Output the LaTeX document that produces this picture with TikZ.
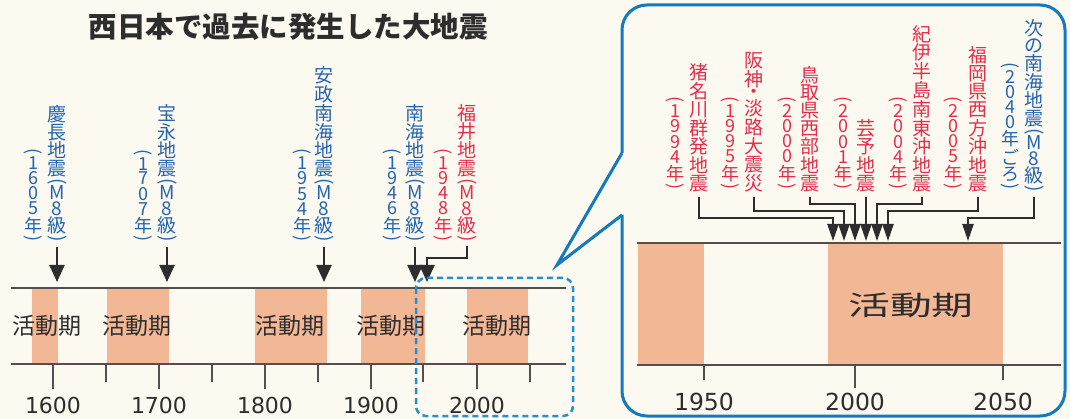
\documentclass[tikz,border=0pt]{standalone}
\usepackage{fontspec}
\usepackage{graphicx}
\setmainfont{Noto Sans CJK JP}
\newfontfamily\numfont{DejaVu Sans}
\usetikzlibrary{arrows.meta}
\XeTeXuseglyphmetrics=1

\definecolor{paper}{RGB}{252,250,240}
\definecolor{band}{RGB}{242,184,150}
\definecolor{axis}{RGB}{85,78,78}
\definecolor{ink}{RGB}{45,45,45}
\definecolor{quakeblue}{RGB}{35,100,175}
\definecolor{quakered}{RGB}{228,45,75}
\definecolor{frameblue}{RGB}{18,122,190}
\definecolor{dashblue}{RGB}{30,145,210}

% vertical text, one character per line
\makeatletter
\newdimen\tategap \tategap=1.3pt
\newcommand\tate[1]{\vbox{\offinterlineskip\lineskip\tategap\tate@a#1\relax}}
\def\tate@a#1{\hbox to 1em{\hss#1\hss}\futurelet\tate@next\tate@b}
\def\tate@b{\ifx\tate@next\relax\expandafter\@gobble\else\expandafter\tate@a\fi}
\makeatother
% parentheses turned for vertical text
\newcommand\tL{\rotatebox{-90}{(}}
\newcommand\tR{\rotatebox{-90}{)}}

\tikzset{
  title/.style={text=ink, inner sep=0pt, font=\bfseries\fontsize{28.5}{28.5}\selectfont},
  mainlbl/.style={inner sep=0pt, anchor=south, font=\fontsize{19}{19}\selectfont},
  yearlbl/.style={inner sep=0pt, anchor=south, font=\fontsize{18}{18}\selectfont,
    execute at begin node={\global\tategap=2pt}, execute at end node={\global\tategap=1.3pt}},
  axisline/.style={draw=axis, line width=2pt},
  tickmark/.style={draw=axis, line width=1.6pt},
  activelbl/.style={text=ink, inner sep=0pt, font=\fontsize{23}{23}\selectfont},
  yearnum/.style={text=ink, inner sep=0pt, font=\numfont\fontsize{22}{22}\selectfont},
  quake/.style={draw=ink, line width=2.4pt, -{Triangle[width=15pt,length=17pt]}},
  quakesmall/.style={draw=ink, line width=2.4pt, -{Triangle[width=11pt,length=17pt]}},
  panel/.style={draw=frameblue, line width=3pt},
}

\begin{document}
\begin{tikzpicture}[x=1pt,y=-1pt]
\fill[paper] (0,0) rectangle (1070,419);
% Drawing title
\node[title] (title) at (288,27) {西日本で過去に発生した大地震};
% Drawing active periods, long timeline
\fill[band] (32,288) rectangle (58,364);
\fill[band] (107,288) rectangle (169,364);
\fill[band] (255,288) rectangle (327,364);
\fill[band] (361,288) rectangle (425,364);
\fill[band] (467,288) rectangle (528,364);
\node[activelbl] (act1) at (47,326) {活動期};
\node[activelbl] (act2) at (137,326) {活動期};
\node[activelbl] (act3) at (290,326) {活動期};
\node[activelbl] (act4) at (391,326) {活動期};
\node[activelbl] (act5) at (497,326) {活動期};
% Drawing axis lines
\draw[axisline] (11,288) -- (566,288);
\draw[axisline] (11,364) -- (566,364);
% Drawing ticks and years
\draw[tickmark] (53,364) -- (53,389);
\draw[tickmark] (106,364) -- (106,382);
\draw[tickmark] (159,364) -- (159,389);
\draw[tickmark] (212,364) -- (212,382);
\draw[tickmark] (265,364) -- (265,389);
\draw[tickmark] (318,364) -- (318,382);
\draw[tickmark] (371,364) -- (371,389);
\draw[tickmark] (423,364) -- (423,382);
\draw[tickmark] (477,364) -- (477,389);
\draw[tickmark] (530,364) -- (530,382);
\node[yearnum] (y1600) at (53,405) {1600};
\node[yearnum] (y1700) at (159,405) {1700};
\node[yearnum] (y1800) at (265,405) {1800};
\node[yearnum] (y1900) at (371,405) {1900};
\node[yearnum] (y2000) at (477,405) {2000};
% Drawing quake labels
% Line 1: keicho 1605
\node[mainlbl, text=quakeblue] (keicho) at (57,242) {\tate{慶長地震\tL M8級\tR}};
\node[yearlbl, text=quakeblue] (keichoY) at (33,242) {\tate{\tL 1605年\tR}};
\coordinate (a1605) at (57,282);
\draw[quake, shorten <=5pt] (keicho.south) -- (a1605);
% Line 2: hoei 1707
\node[mainlbl, text=quakeblue] (hoei) at (167,242) {\tate{宝永地震\tL M8級\tR}};
\node[yearlbl, text=quakeblue] (hoeiY) at (143,242) {\tate{\tL 1707年\tR}};
\coordinate (a1707) at (167,282);
\draw[quake, shorten <=5pt] (hoei.south) -- (a1707);
% Line 3: ansei nankai
\node[mainlbl, text=quakeblue] (ansei) at (324,242) {\tate{安政南海地震\tL M8級\tR}};
\node[yearlbl, text=quakeblue] (anseiY) at (302,242) {\tate{\tL 1954年\tR}};
\coordinate (a1854) at (324,282);
\draw[quake, shorten <=5pt] (ansei.south) -- (a1854);
% Line 4: nankai 1946
\node[mainlbl, text=quakeblue] (nankai) at (415,242) {\tate{南海地震\tL M8級\tR}};
\node[yearlbl, text=quakeblue] (nankaiY) at (392,242) {\tate{\tL 1946年\tR}};
\coordinate (a1946) at (415,282);
\draw[quake, shorten <=5pt] (nankai.south) -- (a1946);
% Line 5: fukui 1948
\node[mainlbl, text=quakered] (fukui) at (467,242) {\tate{福井地震\tL M8級\tR}};
\node[yearlbl, text=quakered] (fukuiY) at (443,242) {\tate{\tL 1948年\tR}};
\coordinate (a1948) at (427,282);
\draw[quake, shorten <=4pt] (fukui.south) -- ++(0,16) -| (a1948);
% Drawing dashed zoom box
\draw[dashblue, line width=2.5pt, dash pattern=on 6pt off 4pt, rounded corners=10pt] (416,278) rectangle (573,416);
% Drawing callout panel
\draw[panel, rounded corners=25pt] (622,153) -- (622,5) -- (1065,5) -- (1065,416) -- (622,416) -- (622,215);
\draw[panel] (622,153) -- (557,265) -- (622,215);
% Drawing active periods, short timeline
\fill[band] (638,243) rectangle (704,365);
\fill[band] (828,243) rectangle (1003,365);
\node[activelbl, font=\fontsize{27}{27}\selectfont] (actbig) at (911,305) {\scalebox{1.55}[1]{活動期}};
\draw[axisline] (637,243) -- (1061,243);
\draw[axisline] (637,365) -- (1061,365);
\draw[tickmark] (704,365) -- (704,380);
\draw[tickmark] (855,365) -- (855,388);
\draw[tickmark] (1003,365) -- (1003,380);
\node[yearnum, font=\numfont\fontsize{23.5}{23.5}\selectfont] (z1950) at (704,402) {1950};
\node[yearnum, font=\numfont\fontsize{23.5}{23.5}\selectfont] (z2000) at (855,402) {2000};
\node[yearnum, font=\numfont\fontsize{23.5}{23.5}\selectfont] (z2050) at (1003,402) {2050};
% Line 6: inagawa 1994
\node[mainlbl, text=quakered] (inagawa) at (699,192) {\tate{猪名川群発地震}};
\node[yearlbl, text=quakered] (inagawaY) at (675,190) {\tate{\tL 1994年\tR}};
\coordinate (a1994) at (833,241);
\draw[quakesmall, shorten <=5pt] (inagawa.south) -- ++(0,26) -| (a1994);
% Line 7: hanshin 1995
\node[mainlbl, text=quakered] (hanshin) at (754,192) {\tate{阪神・淡路大震災}};
\node[yearlbl, text=quakered] (hanshinY) at (730,190) {\tate{\tL 1995年\tR}};
\coordinate (a1995) at (844,241);
\draw[quakesmall, shorten <=5pt] (hanshin.south) -- ++(0,19) -| (a1995);
% Line 8: tottori 2000
\node[mainlbl, text=quakered] (tottori) at (810,192) {\tate{鳥取県西部地震}};
\node[yearlbl, text=quakered] (tottoriY) at (787,190) {\tate{\tL 2000年\tR}};
\coordinate (a2000) at (855,241);
\draw[quakesmall, shorten <=5pt] (tottori.south) -- ++(0,12) -| (a2000);
% Line 9: geiyo 2001
\node[mainlbl, text=quakered] (geiyo) at (866,192) {\tate{芸予地震}};
\node[yearlbl, text=quakered] (geiyoY) at (843,190) {\tate{\tL 2001年\tR}};
\coordinate (a2001) at (866,241);
\draw[quakesmall, shorten <=5pt] (geiyo.south) -- (a2001);
% Line 10: kii 2004
\node[mainlbl, text=quakered] (kii) at (922,192) {\tate{紀伊半島南東沖地震}};
\node[yearlbl, text=quakered] (kiiY) at (898,190) {\tate{\tL 2004年\tR}};
\coordinate (a2004) at (877,241);
\draw[quakesmall, shorten <=5pt] (kii.south) -- ++(0,12) -| (a2004);
% Line 11: fukuoka 2005
\node[mainlbl, text=quakered] (fukuoka) at (978,192) {\tate{福岡県西方沖地震}};
\node[yearlbl, text=quakered] (fukuokaY) at (953,190) {\tate{\tL 2005年\tR}};
\coordinate (a2005) at (888,241);
\draw[quakesmall, shorten <=5pt] (fukuoka.south) -- ++(0,19) -| (a2005);
% Line 12: next nankai 2040
\node[mainlbl, text=quakeblue] (tsugi) at (1034,192) {\tate{次の南海地震\tL M8級\tR}};
\node[yearlbl, text=quakeblue] (tsugiY) at (1010,190) {\tate{\tL 2040年ごろ\tR}};
\coordinate (a2040) at (968,241);
\draw[quakesmall, shorten <=5pt] (tsugi.south) -- ++(0,26) -| (a2040);
% Done
\end{tikzpicture}
\end{document}
